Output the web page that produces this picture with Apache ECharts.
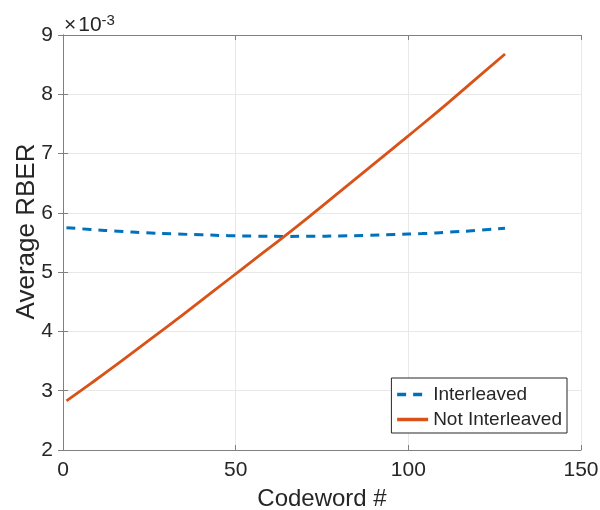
<!DOCTYPE html>
<html>
<head>
<meta charset="utf-8">
<script src="https://cdn.jsdelivr.net/npm/echarts@6/dist/echarts.min.js"></script>
<style>html,body{margin:0;padding:0;background:#fff}#c{width:600px;height:510px}</style>
</head>
<body>
<div id="c"></div>
<script>
var codeword = [1, 8, 16, 24, 32, 40, 48, 56, 64, 72, 80, 88, 96, 104, 112, 120, 128];
var interleaved = [5.75, 5.72, 5.69, 5.665, 5.645, 5.63, 5.615, 5.607, 5.603, 5.605, 5.61, 5.62, 5.635, 5.65, 5.675, 5.705, 5.74];
var notInterleaved = [2.83, 3.12, 3.46, 3.81, 4.16, 4.52, 4.88, 5.24, 5.60, 5.97, 6.35, 6.73, 7.11, 7.49, 7.88, 8.28, 8.68];
var xTicks = [0, 50, 100, 150];
var yTicks = [2, 3, 4, 5, 6, 7, 8, 9];
var seriesNames = ['Interleaved', 'Not Interleaved'];

var FONT = "'Liberation Sans', Arial, Helvetica, sans-serif";
function pairs(xs, ys) { return xs.map(function (x, i) { return [x, ys[i]]; }); }

var chart = echarts.init(document.getElementById('c'), null, { renderer: 'canvas' });
var axisCol = '#808080';
var gridCol = '#e8e8e8';
var txt = '#262626';
var option = {
  animation: false,
  backgroundColor: '#fff',
  grid: { left: 63, right: 19, top: 35, bottom: 60, show: false, containLabel: false, outerBoundsMode: 'none' },
  xAxis: [{
    type: 'value', min: xTicks[0], max: xTicks[xTicks.length - 1], interval: 50,
    name: 'Codeword #', nameLocation: 'middle', nameGap: 37, nameMoveOverlap: false,
    nameTextStyle: { fontFamily: FONT, fontSize: 24, color: txt },
    axisLine: { show: true, lineStyle: { color: axisCol, width: 1 } },
    axisTick: { show: true, inside: true, length: 5, lineStyle: { color: axisCol } },
    axisLabel: { fontFamily: FONT, fontSize: 21, color: txt, margin: 10 },
    splitLine: { show: true, lineStyle: { color: gridCol, width: 1 } }
  }, {
    type: 'value', position: 'top', min: 0, max: 150, interval: 50,
    axisLine: { show: true, lineStyle: { color: axisCol, width: 1 } },
    axisTick: { show: true, inside: true, length: 5, lineStyle: { color: axisCol } },
    axisLabel: { show: false }, splitLine: { show: false }
  }],
  yAxis: [{
    type: 'value', min: yTicks[0], max: yTicks[yTicks.length - 1], interval: 1,
    name: 'Average RBER', nameLocation: 'middle', nameGap: 23, nameMoveOverlap: false,
    nameTextStyle: { fontFamily: FONT, fontSize: 26, color: txt, padding: [0, 0, 0, 22] },
    axisLine: { show: true, lineStyle: { color: axisCol, width: 1 } },
    axisTick: { show: true, inside: true, length: 5, lineStyle: { color: axisCol } },
    axisLabel: { fontFamily: FONT, fontSize: 21, color: txt, margin: 10 },
    splitLine: { show: true, lineStyle: { color: gridCol, width: 1 } }
  }, {
    type: 'value', position: 'right', min: 2, max: 9, interval: 1,
    axisLine: { show: true, lineStyle: { color: axisCol, width: 1 } },
    axisTick: { show: true, inside: true, length: 5, lineStyle: { color: axisCol } },
    axisLabel: { show: false }, splitLine: { show: false }
  }],
  legend: {
    show: true, orient: 'vertical', right: 33, bottom: 77,
    itemWidth: 31, itemHeight: 20, itemGap: 6,
    padding: [7, 5, 4, 4],
    backgroundColor: '#fff', borderColor: txt, borderWidth: 1,
    itemStyle: { opacity: 0 },
    lineStyle: { width: 3.5 },
    textStyle: { fontFamily: FONT, fontSize: 19, color: txt },
    data: seriesNames
  },
  graphic: [{
    type: 'text', left: 64, top: 13,
    style: {
      text: '{a|×}{b|10}{c|-3}',
      rich: {
        a: { fontFamily: FONT, fontSize: 21, fill: txt, padding: [0, 2, 0, 0] },
        b: { fontFamily: FONT, fontSize: 21, fill: txt },
        c: { fontFamily: FONT, fontSize: 15, fill: txt, verticalAlign: 'top', padding: [0, 0, 10, 0] }
      }
    }
  }],
  series: [{
    name: seriesNames[0], type: 'line', data: pairs(codeword, interleaved),
    smooth: true, symbol: 'none', color: '#0072BD',
    itemStyle: { color: '#0072BD' },
    lineStyle: { color: '#0072BD', width: 3, type: [9, 7] }
  }, {
    name: seriesNames[1], type: 'line', data: pairs(codeword, notInterleaved),
    smooth: true, symbol: 'none', color: '#D95319',
    itemStyle: { color: '#D95319' },
    lineStyle: { color: '#D95319', width: 2.8 }
  }]
};
chart.setOption(option);
</script>
</body>
</html>
